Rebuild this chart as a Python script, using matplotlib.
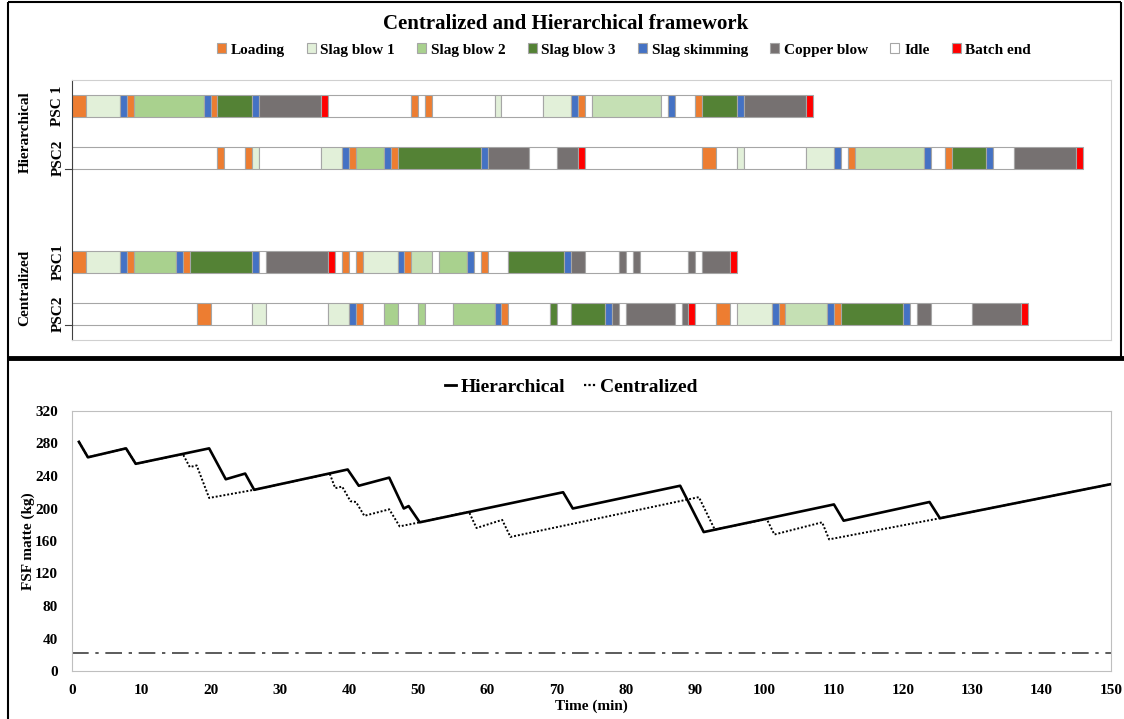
import matplotlib
matplotlib.use("Agg")
import matplotlib.pyplot as plt
from matplotlib.patches import Patch
from matplotlib.lines import Line2D
from matplotlib.font_manager import FontProperties
from matplotlib.transforms import blended_transform_factory

# ---------------- schedule data (minutes) ----------------
TASK_NAMES = ["Loading", "Slag blow 1", "Slag blow 2", "Slag blow 3",
              "Slag skimming", "Copper blow", "Idle", "Batch end"]
TASK_CODES = ["L", "S1", "S2", "S3", "SK", "CU", "I", "END"]

hier_psc1_times = [0, 2, 7, 8, 9, 19, 20, 21, 26, 27, 36, 37, 49, 50, 51, 52,
                   61, 62, 68, 72, 73, 74, 75, 85, 86, 87, 90, 91, 96, 97, 106, 107]
hier_psc1_tasks = ["L", "S1", "SK", "L", "S2", "SK", "L", "S3", "SK", "CU", "END",
                   "I", "L", "I", "L", "I", "S1", "I", "S1", "SK", "L", "I",
                   "S2b", "I", "SK", "I", "L", "S3", "SK", "CU", "END"]

hier_psc2_times = [0, 21, 22, 25, 26, 27, 36, 39, 40, 41, 45, 46, 47, 59, 60, 66,
                   70, 73, 74, 91, 93, 96, 97, 106, 110, 111, 112, 113, 123, 124,
                   126, 127, 132, 133, 136, 145, 146]
hier_psc2_tasks = ["I", "L", "I", "L", "S1", "I", "S1", "SK", "L", "S2", "SK", "L",
                   "S3", "SK", "CU", "I", "CU", "END", "I", "L", "I", "S1", "I",
                   "S1", "SK", "I", "L", "S2b", "SK", "I", "L", "S3", "SK", "I",
                   "CU", "END"]

cent_psc1_times = [0, 2, 7, 8, 9, 15, 16, 17, 26, 27, 28, 37, 38, 39, 40, 41, 42,
                   47, 48, 49, 52, 53, 57, 58, 59, 60, 63, 71, 72, 74, 79, 80, 81,
                   82, 89, 90, 91, 95, 96]
cent_psc1_tasks = ["L", "S1", "SK", "L", "S2", "SK", "L", "S3", "SK", "I", "CU",
                   "END", "I", "L", "I", "L", "S1", "SK", "L", "S2b", "I", "S2",
                   "SK", "I", "L", "I", "S3", "SK", "CU", "I", "CU", "I", "CU",
                   "I", "CU", "I", "CU", "END"]

cent_psc2_times = [0, 18, 20, 26, 28, 37, 40, 41, 42, 45, 47, 50, 51, 55, 61, 62,
                   63, 69, 70, 72, 77, 78, 79, 80, 87, 88, 89, 90, 93, 95, 96, 101,
                   102, 103, 109, 110, 111, 120, 121, 122, 124, 130, 137, 138]
cent_psc2_tasks = ["I", "L", "I", "S1", "I", "S1", "SK", "L", "I", "S2", "I", "S2",
                   "I", "S2", "SK", "L", "I", "S3", "I", "S3", "SK", "CU", "I",
                   "CU", "I", "CU", "END", "I", "L", "I", "S1", "SK", "L", "S2b",
                   "SK", "L", "S3", "SK", "I", "CU", "I", "CU", "END"]

# ---------------- FSF matte inventory (kg) ----------------
hier_t = [1, 2.3, 7.8, 9.2, 19.8, 22.2, 25.0, 26.3, 39.8, 41.4, 45.8, 47.9, 48.6,
          50.2, 70.9, 72.3, 87.8, 91.2, 110.0, 111.4, 123.8, 125.3, 150]
hier_v = [282, 263, 274, 255, 274, 236, 243, 223, 248, 228, 238, 200, 203,
          183, 220, 200, 228, 171, 205, 185, 208, 188, 230]

cent_t = [1, 2.3, 7.8, 9.2, 16.0, 17.0, 18.0, 19.8, 26.3, 37.2, 38.0, 39.0, 40.2,
          41.0, 42.2, 45.8, 47.3, 50.2, 57.3, 58.4, 62.1, 63.3, 90.5, 92.8,
          100.3, 101.4, 108.3, 109.3, 125.3, 150]
cent_v = [282, 263, 274, 255, 267, 251, 253, 213, 223, 243, 225, 227, 209,
          208, 191, 199, 178, 183, 196, 176, 186, 165, 214, 174,
          187, 168, 183, 162, 188, 230]

min_level = 22

# ---------------- styling ----------------
COLORS = {"L": "#ED7D31", "S1": "#E2F0D9", "S2": "#A9D18E", "S2b": "#C5E0B4",
          "S3": "#548235", "SK": "#4472C4", "CU": "#767171", "I": "#FFFFFF",
          "END": "#FF0000"}
EDGE = "#A6A6A6"
SERIF = "Liberation Serif"

W, H = 1124, 719
fig = plt.figure(figsize=(W / 100, H / 100), dpi=100)
fig.patch.set_facecolor("white")


def fp(size):
    return FontProperties(family=SERIF, weight="bold", size=size)


# ---------------- Gantt panel ----------------
axg = fig.add_axes([72 / W, 1 - 340 / H, 1039 / W, 260 / H])
rows = [
    (0, hier_psc1_times, hier_psc1_tasks, "PSC 1"),
    (1, hier_psc2_times, hier_psc2_tasks, "PSC2"),
    (3, cent_psc1_times, cent_psc1_tasks, "PSC1"),
    (4, cent_psc2_times, cent_psc2_tasks, "PSC2"),
]
bar_h = 0.41
for ypos, times, tasks, name in rows:
    starts = times[:-1]
    widths = [b - a for a, b in zip(times[:-1], times[1:])]
    cols = [COLORS[t] for t in tasks]
    axg.barh([ypos] * len(starts), widths, left=starts, height=bar_h,
             color=cols, edgecolor=EDGE, linewidth=0.8)

axg.set_xlim(0, 150)
axg.set_ylim(4.5, -0.5)
axg.set_xticks([])
axg.set_yticks([])
for s in axg.spines.values():
    s.set_color("#D0D0D0")
    s.set_linewidth(0.8)
axg.spines["left"].set_color("#404040")

tr = blended_transform_factory(axg.transAxes, axg.transData)
for ypos, _, _, name in rows:
    axg.text(-0.0135, ypos, name, transform=tr, rotation=90, ha="center",
             va="center", fontproperties=fp(11))
axg.text(-0.045, 0.5, "Hierarchical", transform=tr, rotation=90, ha="center",
         va="center", fontproperties=fp(11))
axg.text(-0.045, 3.5, "Centralized", transform=tr, rotation=90, ha="center",
         va="center", fontproperties=fp(11))
for yb in (1 + bar_h / 2, 4 + bar_h / 2):
    axg.plot([-0.007, 0], [yb, yb], transform=tr, color="#404040", lw=0.8,
             clip_on=False)

fig.text(566 / W, 1 - 24 / H, "Centralized and Hierarchical framework",
         ha="center", va="center", fontproperties=fp(15))

legend_codes = ["L", "S1", "S2", "S3", "SK", "CU", "I", "END"]
handles = [Patch(facecolor=COLORS[c], edgecolor=EDGE, linewidth=0.8)
           for c in legend_codes]
fig.legend(handles, TASK_NAMES, loc="center", bbox_to_anchor=(0.555, 1 - 50 / H),
           ncol=8, frameon=False, prop=fp(11), handlelength=0.6,
           handleheight=0.6, handletextpad=0.3, columnspacing=1.45)

# ---------------- inventory panel ----------------
axl = fig.add_axes([72 / W, 1 - 671 / H, 1039 / W, 260 / H])
axl.plot(cent_t, cent_v, color="black", lw=1.4, linestyle=(0, (1, 1)),
         label="Centralized", zorder=2)
axl.plot(hier_t, hier_v, color="black", lw=1.9, label="Hierarchical", zorder=3)
axl.axhline(min_level, color="#404040", lw=1.2,
            linestyle=(0, (10, 4, 2, 4)), zorder=1)

axl.set_xlim(0, 150)
axl.set_ylim(0, 320)
axl.set_xticks(range(0, 151, 10))
axl.set_yticks(range(0, 321, 40))
axl.tick_params(length=0, pad=9)
axl.tick_params(axis="y", pad=10)
for lab in axl.get_xticklabels() + axl.get_yticklabels():
    lab.set_fontproperties(fp(11))
for s in axl.spines.values():
    s.set_color("#BFBFBF")
    s.set_linewidth(0.8)
axl.set_xlabel("Time (min)", fontproperties=fp(11), labelpad=2)
axl.set_ylabel("FSF matte (kg)", fontproperties=fp(11))
axl.yaxis.set_label_coords(-0.036, 0.5)

lh = [Line2D([], [], color="black", lw=2.0),
      Line2D([], [], color="black", lw=1.6, linestyle=(0, (1, 1)))]
fig.legend(lh, ["Hierarchical", "Centralized"], loc="center",
           bbox_to_anchor=(0.508, 1 - 387 / H), ncol=2, frameon=False,
           prop=fp(14), handlelength=0.6, handletextpad=0.2, columnspacing=1.0)

# ---------------- panel frames ----------------
def frame_line(x0, y0, x1, y1, lw):
    fig.add_artist(Line2D([x0 / W, x1 / W], [1 - y0 / H, 1 - y1 / H],
                          color="black", lw=lw, transform=fig.transFigure,
                          solid_capstyle="butt"))


frame_line(8, 2, 1121, 2, 1.5)
frame_line(8, 2, 8, 719, 1.5)
frame_line(1121, 2, 1121, 357, 1.5)
frame_line(8, 358, 1124, 358, 3.5)

fig.savefig("out.png", dpi=100, facecolor="white")
